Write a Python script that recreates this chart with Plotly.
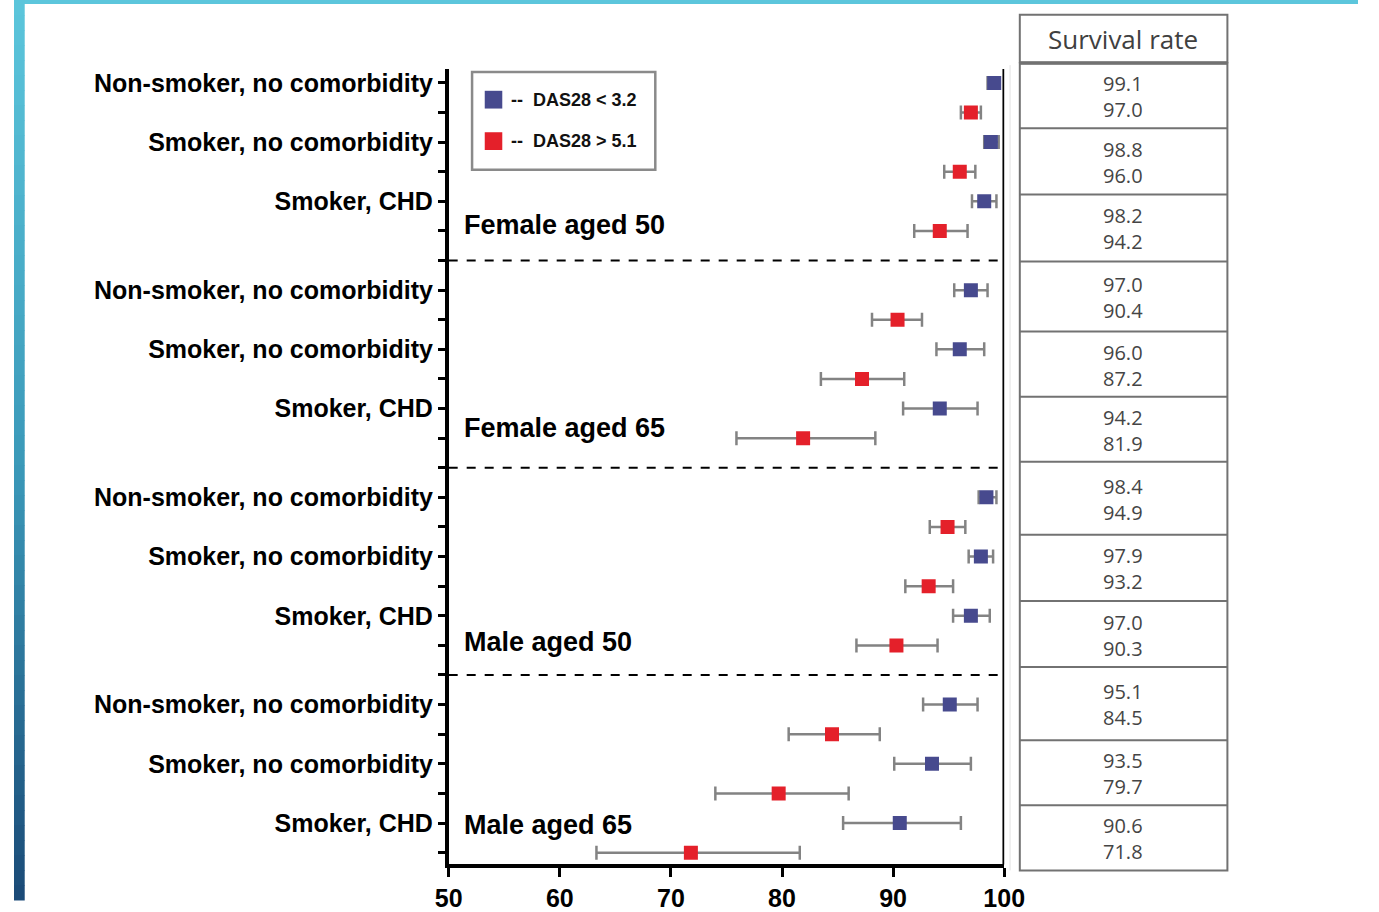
import plotly.graph_objects as go

# ---- data -----------------------------------------------------------------
groups = ["Female aged 50", "Female aged 65", "Male aged 50", "Male aged 65"]
profiles = ["Non-smoker, no comorbidity", "Smoker, no comorbidity", "Smoker, CHD"]

# survival rate (%) and 95% CI, one entry per group x profile
low_das_rate = [99.1, 98.8, 98.2, 97.0, 96.0, 94.2, 98.4, 97.9, 97.0, 95.1, 93.5, 90.6]
low_das_lo = [98.5, 98.2, 97.1, 95.5, 93.9, 90.9, 97.7, 96.8, 95.4, 92.7, 90.1, 85.5]
low_das_hi = [99.6, 99.5, 99.3, 98.5, 98.2, 97.6, 99.3, 99.0, 98.7, 97.6, 97.0, 96.1]

high_das_rate = [97.0, 96.0, 94.2, 90.4, 87.2, 81.9, 94.9, 93.2, 90.3, 84.5, 79.7, 71.8]
high_das_lo = [96.1, 94.6, 91.9, 88.1, 83.5, 75.9, 93.3, 91.1, 86.7, 80.6, 74.0, 63.3]
high_das_hi = [97.9, 97.4, 96.7, 92.6, 91.0, 88.4, 96.5, 95.4, 94.0, 88.8, 86.0, 81.6]

x_ticks = [50, 60, 70, 80, 90, 100]
series_names = ["--  DAS28 < 3.2", "--  DAS28 > 5.1"]

# ---- canvas helpers -------------------------------------------------------
W, H = 1379, 912


def px(x):
    return x / W


def py(y):
    return 1 - y / H


BLUE = "#474a8e"
RED = "#e4202a"
BAR = "#838383"
TXT = "Liberation Sans, Arial, sans-serif"
TABLE_FONT = "Open Sans, sans-serif"

# row layout: each group = 3 profiles x 2 rows, then a separator row
ROWS_PER_GROUP = 7
blue_rows, red_rows = [], []
for g in range(len(groups)):
    for p in range(len(profiles)):
        blue_rows.append(g * ROWS_PER_GROUP + 2 * p)
        red_rows.append(g * ROWS_PER_GROUP + 2 * p + 1)
n_rows = len(groups) * ROWS_PER_GROUP - 1
sep_rows = [g * ROWS_PER_GROUP + 6 for g in range(len(groups) - 1)]

tick_vals = list(range(n_rows))
tick_text = [""] * n_rows
for g in range(len(groups)):
    for p, name in enumerate(profiles):
        tick_text[g * ROWS_PER_GROUP + 2 * p] = name

fig = go.Figure()


def add_series(rate, lo, hi, rows, color, name):
    fig.add_trace(go.Scatter(
        x=rate, y=rows, mode="markers", name=name,
        marker=dict(symbol="square", size=14, color=color),
        error_x=dict(type="data", symmetric=False,
                     array=[h - r for h, r in zip(hi, rate)],
                     arrayminus=[r - l for r, l in zip(rate, lo)],
                     color=BAR, thickness=2.5, width=7),
        showlegend=False,
    ))


add_series(low_das_rate, low_das_lo, low_das_hi, blue_rows, BLUE, series_names[0])
add_series(high_das_rate, high_das_lo, high_das_hi, red_rows, RED, series_names[1])

shapes = []

# slide decoration: top strip and left gradient band
shapes.append(dict(type="rect", xref="paper", yref="paper", x0=0, x1=1,
                   y0=py(4), y1=1, fillcolor="#5cc6dc", line_width=0, layer="below"))
stops = [(0, (92, 198, 220)), (480, (58, 152, 184)), (912, (26, 74, 119))]
n_band = 60
for i in range(n_band):
    y0 = H * i / n_band
    y1 = H * (i + 1) / n_band
    ym = (y0 + y1) / 2
    for (a, ca), (b, cb) in zip(stops[:-1], stops[1:]):
        if a <= ym <= b:
            t = (ym - a) / (b - a)
            c = tuple(round(ca[k] + (cb[k] - ca[k]) * t) for k in range(3))
            break
    shapes.append(dict(type="rect", xref="paper", yref="paper", x0=0, x1=px(11),
                       y0=py(y1 + 0.5), y1=py(y0), fillcolor="rgb(%d,%d,%d)" % c,
                       line_width=0, layer="below"))

# right boundary at 100 %
shapes.append(dict(type="line", xref="x", yref="paper", x0=100, x1=100,
                   y0=py(876), y1=py(70), line=dict(color="black", width=3.5)))

# dashed separators between groups
for r in sep_rows:
    shapes.append(dict(type="line", xref="x", yref="y", x0=50, x1=100, y0=r, y1=r,
                       line=dict(color="black", width=2, dash="dash")))

# legend box
shapes.append(dict(type="rect", xref="paper", yref="paper", x0=px(470), x1=px(658),
                   y0=py(172), y1=py(73), line=dict(color="#8a8a8a", width=2.5),
                   fillcolor="white"))
annotations = []
for (yy, col, name) in [(101, BLUE, series_names[0]), (143, RED, series_names[1])]:
    shapes.append(dict(type="rect", xref="paper", yref="paper", x0=px(483), x1=px(501),
                       y0=py(yy + 9), y1=py(yy - 9), fillcolor=col, line_width=0))
    annotations.append(dict(xref="paper", yref="paper", x=px(508), y=py(yy), text="<b>%s</b>" % name,
                            showarrow=False, xanchor="left", yanchor="middle",
                            font=dict(family=TXT, size=18, color="#111")))

# group titles
for name, ypx in zip(groups, [228, 434, 651, 836]):
    annotations.append(dict(xref="paper", yref="paper", x=px(460), y=py(ypx), text="<b>%s</b>" % name,
                            showarrow=False, xanchor="left", yanchor="middle",
                            font=dict(family=TXT, size=27, color="black")))

# survival-rate table on the right
TX0, TX1 = 1032, 1245
row_edges = [63, 130, 197, 265, 336, 402, 468, 542, 609, 676, 750, 816, 882]
TLINE = "#727272"
shapes.append(dict(type="rect", xref="paper", yref="paper", x0=px(TX0), x1=px(TX1),
                   y0=py(63), y1=py(15), line=dict(color=TLINE, width=2)))
shapes.append(dict(type="line", xref="paper", yref="paper", x0=px(TX0), x1=px(TX1),
                   y0=py(64), y1=py(64), line=dict(color=TLINE, width=3)))
shapes.append(dict(type="rect", xref="paper", yref="paper", x0=px(TX0), x1=px(TX1),
                   y0=py(882), y1=py(64), line=dict(color=TLINE, width=2)))
shapes.append(dict(type="line", xref="paper", yref="paper", x0=px(1022), x1=px(1022),
                   y0=py(882), y1=py(66), line=dict(color="#e2e2e2", width=1)))
for e in row_edges[1:-1]:
    shapes.append(dict(type="line", xref="paper", yref="paper", x0=px(TX0), x1=px(TX1),
                       y0=py(e), y1=py(e), line=dict(color=TLINE, width=2)))
annotations.append(dict(xref="paper", yref="paper", x=px(1138), y=py(40), text="Survival rate",
                        showarrow=False, xanchor="center", yanchor="middle",
                        font=dict(family=TABLE_FONT, size=26, color="#404040")))
for i in range(len(low_das_rate)):
    mid = (row_edges[i] + row_edges[i + 1]) / 2 + 1
    annotations.append(dict(xref="paper", yref="paper", x=px(1138), y=py(mid),
                            text="%.1f<br>%.1f" % (low_das_rate[i], high_das_rate[i]),
                            showarrow=False, xanchor="center", yanchor="middle",
                            font=dict(family=TABLE_FONT, size=20, color="#454545")))

fig.update_layout(
    width=W, height=H, margin=dict(l=0, r=0, t=0, b=0, pad=0),
    paper_bgcolor="white", plot_bgcolor="white",
    shapes=shapes, annotations=annotations,
    xaxis=dict(domain=[px(446), px(1016)], range=[50, 100], tickvals=x_ticks,
               ticktext=["<b>%d</b>" % v for v in x_ticks],
               showline=True, linecolor="black", linewidth=3.5, ticks="outside",
               ticklen=9, tickwidth=3, tickcolor="black", showgrid=False, zeroline=False,
               tickfont=dict(family=TXT, size=25, color="black")),
    yaxis=dict(domain=[py(876), py(70)], range=[(876 - 84) / 30, (70 - 84) / 30],
               tickvals=tick_vals, ticktext=["<b>%s</b>" % t if t else "" for t in tick_text],
               showline=True, linecolor="black", linewidth=3.5, ticks="outside",
               ticklen=7, tickwidth=3, tickcolor="black", showgrid=False, zeroline=False,
               tickfont=dict(family=TXT, size=25, color="black")),
)

fig.write_html("out.html")
